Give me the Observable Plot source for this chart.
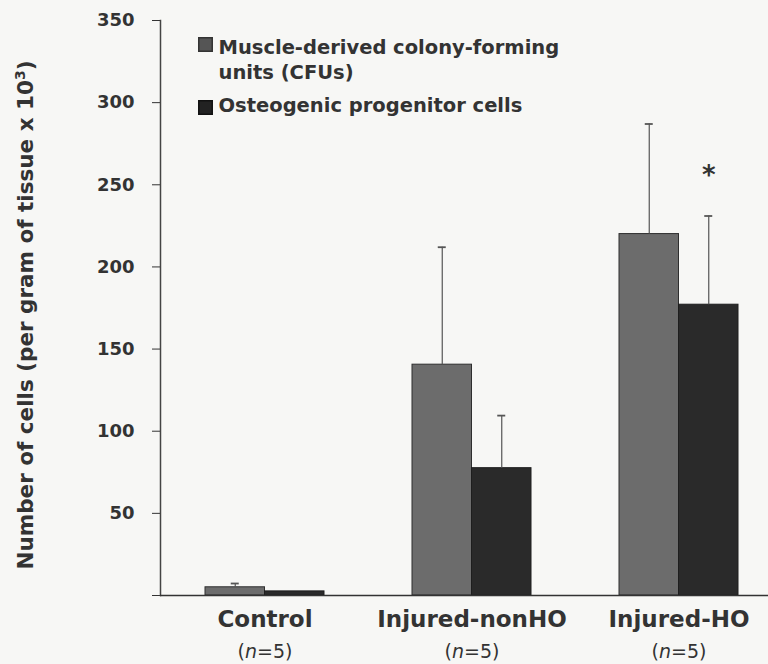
<!DOCTYPE html>
<html>
<head>
<meta charset="utf-8">
<script src="https://cdn.jsdelivr.net/npm/d3@7"></script>
<script src="https://cdn.jsdelivr.net/npm/@observablehq/plot@0.6"></script>
<style>
  html, body { margin: 0; padding: 0; background: #f7f7f5; }
  #chart { width: 768px; height: 664px; }
</style>
</head>
<body>
<div id="chart"></div>
<script>
// ---- data ----
const groups = ["Control", "Injured-nonHO", "Injured-HO"];
const sampleSizes = [5, 5, 5];
const seriesNames = ["Muscle-derived colony-forming units (CFUs)", "Osteogenic progenitor cells"];
const legendLabels = ["Muscle-derived colony-forming\nunits (CFUs)", "Osteogenic progenitor cells"];
const cfuMean = [5, 140.5, 220];
const cfuSd = [2.3, 71.5, 67];
const ostMean = [2.5, 77.5, 177];
const ostSd = [0, 32, 54];
const significant = [false, false, true];
const yTicks = [0, 50, 100, 150, 200, 250, 300, 350];
const yLabel = "Number of cells (per gram of tissue x 10^3)";

const cfuRows = groups.map((g, i) => ({group: g, series: seriesNames[0], mean: cfuMean[i], sd: cfuSd[i]}));
const ostRows = groups.map((g, i) => ({group: g, series: seriesNames[1], mean: ostMean[i], sd: ostSd[i], sig: significant[i]}));
const nRows = groups.map((g, i) => ({group: g, n: sampleSizes[i]}));

const half = 59.5;      // half of group band width (px)
const barOff = 29.75;   // offset from band centre to each bar centre (px)
const capHalf = 4;      // half width of error caps (px)
const textColor = "#333";

const chart = Plot.plot({
  width: 768,
  height: 664,
  marginTop: 20,
  marginBottom: 69,
  marginLeft: 160,
  marginRight: 0,
  style: {fontFamily: "'DejaVu Sans', sans-serif", fontWeight: "bold", fontSize: "18px", color: textColor, background: "transparent", overflow: "visible"},
  x: {type: "band", domain: groups, range: [160, 782.5], paddingInner: 0.4265, paddingOuter: 0.213, axis: null},
  y: {domain: [0, 350], ticks: yTicks, tickFormat: d => d === 0 ? "" : d, tickSize: 8, tickPadding: 18, label: null},
  marks: [
    Plot.frame({anchor: "left", stroke: "#444", strokeWidth: 1.5}),
    Plot.barY(cfuRows, {x: "group", y: "mean", fill: "#6c6c6c", stroke: "#2e2e2e", strokeWidth: 1, insetRight: half}),
    Plot.barY(ostRows, {x: "group", y: "mean", fill: "#2a2a2a", stroke: "#1e1e1e", strokeWidth: 1, insetLeft: half}),
    Plot.ruleX(cfuRows.filter(d => d.sd > 0), {x: "group", y1: "mean", y2: d => d.mean + d.sd, dx: -barOff, stroke: "#555", strokeWidth: 1.2}),
    Plot.ruleX(ostRows.filter(d => d.sd > 0), {x: "group", y1: "mean", y2: d => d.mean + d.sd, dx: barOff, stroke: "#555", strokeWidth: 1.2}),
    Plot.tickY(cfuRows.filter(d => d.sd > 0), {x: "group", y: d => d.mean + d.sd, insetLeft: half/2 - capHalf, insetRight: half*1.5 - capHalf, stroke: "#555", strokeWidth: 1.8}),
    Plot.tickY(ostRows.filter(d => d.sd > 0), {x: "group", y: d => d.mean + d.sd, insetLeft: half*1.5 - capHalf, insetRight: half/2 - capHalf, stroke: "#555", strokeWidth: 1.8}),
    Plot.text(ostRows.filter(d => d.sig), {x: "group", y: d => d.mean + d.sd, dx: barOff, dy: -40, text: () => "*", fontSize: 26, fill: textColor}),
    Plot.ruleY([0], {stroke: "#333", strokeWidth: 1.5}),
    // group labels
    Plot.text(groups, {x: d => d, frameAnchor: "bottom", text: d => d, lineAnchor: "top", dy: 15, fontSize: 23, fill: textColor}),
    Plot.text(nRows, {x: "group", frameAnchor: "bottom", text: d => `(n=${d.n})`, lineAnchor: "top", dy: 49, fontSize: 19, fontWeight: "normal", fill: textColor}),
    // legend
    Plot.dot([seriesNames[0]], {frameAnchor: "top-left", dx: 45, dy: 24, symbol: "square", r: 7.6, fill: "#555", stroke: "#333"}),
    Plot.dot([seriesNames[1]], {frameAnchor: "top-left", dx: 45, dy: 87, symbol: "square", r: 7.6, fill: "#222", stroke: "#111"}),
    Plot.text([legendLabels[0]], {frameAnchor: "top-left", dx: 58, dy: 15, text: d => d, textAnchor: "start", lineAnchor: "top", lineHeight: 1.3, fontSize: 19.5, fill: textColor}),
    Plot.text([legendLabels[1]], {frameAnchor: "top-left", dx: 58, dy: 78, text: d => d, textAnchor: "start", lineAnchor: "top", fontSize: 19.5, fill: textColor}),
    // y label
    Plot.text([yLabel], {frameAnchor: "left", rotate: -90, dx: -134, dy: 7, text: d => d, textAnchor: "middle", lineAnchor: "middle", fontSize: 21.5, fill: textColor})
  ]
});

document.getElementById("chart").appendChild(chart);

// rich text: italic n, superscript 3
d3.select(chart).selectAll("text").each(function() {
  const t = d3.select(this);
  const s = this.textContent;
  if (/^\(n=\d+\)$/.test(s)) {
    const num = s.match(/\d+/)[0];
    t.text(null);
    t.append("tspan").text("(");
    t.append("tspan").attr("font-style", "italic").text("n");
    t.append("tspan").text("=" + num + ")");
  } else if (s.indexOf("10^3") >= 0) {
    const [a, b] = s.split("10^3");
    t.text(null);
    t.append("tspan").text(a + "10");
    t.append("tspan").attr("baseline-shift", "super").attr("font-size", "14px").text("3");
    t.append("tspan").text(b);
  }
});
</script>
</body>
</html>
